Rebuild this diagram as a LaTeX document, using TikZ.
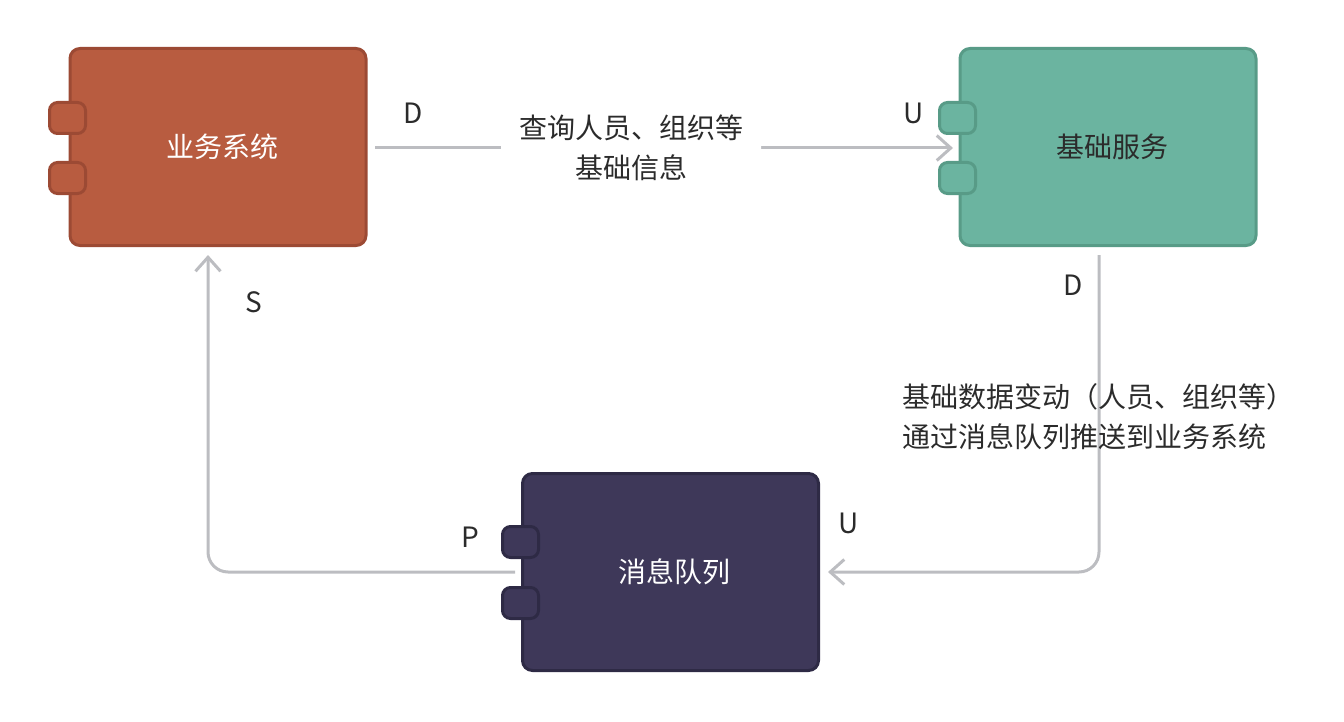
\documentclass[tikz,border=0pt]{standalone}
\usepackage{fontspec}
\setmainfont{Noto Sans CJK SC}
\usetikzlibrary{arrows.meta}
\definecolor{redfill}{HTML}{B85C40}
\definecolor{redline}{HTML}{9C4A34}
\definecolor{grnfill}{HTML}{6BB4A0}
\definecolor{grnline}{HTML}{589B87}
\definecolor{drkfill}{HTML}{3E3859}
\definecolor{drkline}{HTML}{2E2A45}
\definecolor{conn}{HTML}{BCBDC1}
\definecolor{txt}{HTML}{2B2B2B}
\tikzset{
  comp/.style={draw, line width=1.5pt, rounded corners=5pt, minimum width=148pt, minimum height=98.5pt, inner sep=0pt, font=\fontsize{14}{20}\selectfont},
  port/.style={draw, line width=1.5pt, rounded corners=4pt, minimum width=18pt, minimum height=15.5pt, inner sep=0pt},
  lbl/.style={font=\fontsize{14}{20}\selectfont, text=txt, inner sep=0pt},
  link/.style={draw=conn, line width=1.5pt, rounded corners=10pt, -{Straight Barb[length=7pt,width=12.5pt,line width=1.5pt]}}
}
\begin{document}
\begin{tikzpicture}[x=0.5pt,y=-0.5pt]
\useasboundingbox (0,0) rectangle (1344,722);
% components
\node[comp, fill=redfill, draw=redline, text=white] (biz) at (218,147) {\hspace{4pt}业务系统};
\node[port, fill=redfill, draw=redline] (bizp1) at (67.5,118) {};
\node[port, fill=redfill, draw=redline] (bizp2) at (67.5,178) {};
\node[comp, fill=grnfill, draw=grnline, text=txt] (base) at (1108,147) {\hspace{4pt}基础服务};
\node[port, fill=grnfill, draw=grnline] (basep1) at (957.5,118) {};
\node[port, fill=grnfill, draw=grnline] (basep2) at (957.5,178) {};
\node[comp, fill=drkfill, draw=drkline, text=white] (mq) at (670.5,572) {\hspace{4pt}消息队列};
\node[port, fill=drkfill, draw=drkline] (mqp1) at (520.5,542) {};
\node[port, fill=drkfill, draw=drkline] (mqp2) at (520.5,603) {};
% connector anchors
\coordinate (a1) at (375,148);
\coordinate (a2) at (953,148);
\coordinate (b1) at (1099,255);
\coordinate (b2) at (828,572);
\coordinate (c1) at (515,572);
\coordinate (c2) at (208,255);
% connectors
\draw[link] (a1) -- node[pos=0.443, fill=white, lbl, inner xsep=9pt, inner ysep=6pt, align=center] (qlabel) {查询人员、组织等\\基础信息} (a2);
\draw[link] (b1) |- (b2);
\draw[link] (c1) -| (c2);
% labels
\node[lbl] (d1) at (413,113) {D};
\node[lbl] (u1) at (914,113) {U};
\node[lbl] (d2) at (1073,285) {D};
\node[lbl] (u2) at (849,523) {U};
\node[lbl] (s1) at (254,302) {S};
\node[lbl] (p1) at (470,537) {P};
\node[lbl, anchor=west, align=left] (push) at (902,417) {基础数据变动（人员、组织等）\\通过消息队列推送到业务系统};
\end{tikzpicture}
\end{document}
